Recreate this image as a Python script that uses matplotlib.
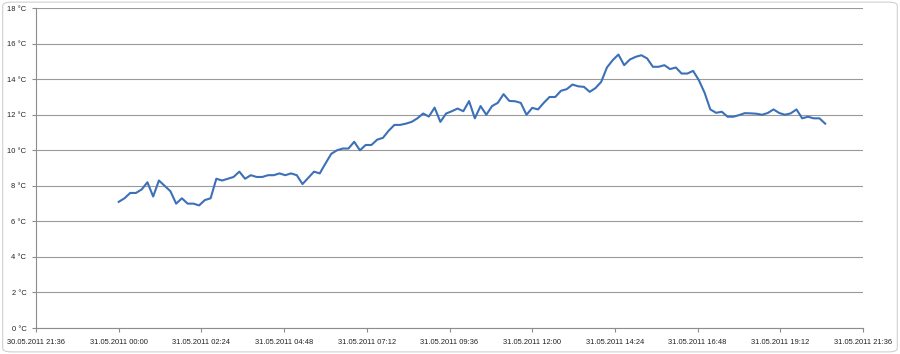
import pandas as pd
import matplotlib
matplotlib.use('Agg')
import matplotlib.pyplot as plt
import matplotlib.dates as mdates
from matplotlib.patches import FancyBboxPatch

# temperature readings, every 10 minutes from 31.05.2011 00:00
start_time = '2011-05-31 00:00'
temps = [
    7.1, 7.3, 7.6, 7.6, 7.8, 8.2, 7.4, 8.3, 8.0, 7.7,
    7.0, 7.3, 7.0, 7.0, 6.9, 7.2, 7.3, 8.4, 8.3, 8.4,
    8.5, 8.8, 8.4, 8.6, 8.5, 8.5, 8.6, 8.6, 8.7, 8.6,
    8.7, 8.6, 8.1, 8.45, 8.8, 8.7, 9.26, 9.8, 10.0, 10.1,
    10.1, 10.48, 10.0, 10.3, 10.3, 10.6, 10.7, 11.1, 11.43, 11.43,
    11.5, 11.6, 11.8, 12.07, 11.9, 12.4, 11.6, 12.07, 12.2, 12.35,
    12.2, 12.77, 11.8, 12.49, 12.0, 12.49, 12.67, 13.16, 12.78, 12.76,
    12.67, 12.0, 12.39, 12.3, 12.67, 13.0, 13.0, 13.35, 13.44, 13.7,
    13.6, 13.57, 13.29, 13.5, 13.85, 14.66, 15.07, 15.39, 14.79, 15.11,
    15.26, 15.35, 15.17, 14.7, 14.7, 14.79, 14.57, 14.66, 14.32, 14.32,
    14.47, 13.95, 13.24, 12.3, 12.11, 12.17, 11.89, 11.89, 11.98, 12.09,
    12.08, 12.06, 12.0, 12.1, 12.3, 12.1, 12.0, 12.08, 12.3, 11.8,
    11.89, 11.8, 11.8, 11.5,
]
times = pd.date_range(start_time, periods=len(temps), freq='10min')

x_start = pd.Timestamp('2011-05-30 21:36')
x_end = pd.Timestamp('2011-05-31 21:36')
x_ticks = pd.date_range(x_start, x_end, freq='144min')
y_ticks = [0, 2, 4, 6, 8, 10, 12, 14, 16, 18]

plt.rcParams['font.family'] = ['Liberation Sans', 'DejaVu Sans']

fig = plt.figure(figsize=(9, 3.54), dpi=100)
fig.patches.append(FancyBboxPatch((0.003, 0.006), 0.994, 0.988,
                                  boxstyle='round,pad=0,rounding_size=0.01',
                                  transform=fig.transFigure, fill=False,
                                  edgecolor='#d0d0d0', linewidth=0.8))
ax = fig.add_axes([0.04, 0.0734, 0.919, 0.9036])

ax.plot(times, temps, color='#3c70b8', linewidth=1.5, zorder=3)

ax.set_xlim(x_start, x_end)
ax.set_ylim(0, 18)
ax.set_xticks(x_ticks)
ax.xaxis.set_major_formatter(mdates.DateFormatter('%d.%m.%Y %H:%M'))
ax.set_yticks(y_ticks)
ax.set_yticklabels([f'{v} °C' for v in y_ticks])

ax.grid(axis='y', color='#9a9a9a', linewidth=0.8)
ax.set_axisbelow(True)
for side in ['top', 'right']:
    ax.spines[side].set_visible(False)
for side in ['left', 'bottom']:
    ax.spines[side].set_color('#8c8c8c')
    ax.spines[side].set_linewidth(0.8)
ax.tick_params(axis='both', direction='out', length=3, width=0.8,
               color='#8c8c8c', labelsize=5.4, labelcolor='#222222', pad=4)
ax.tick_params(axis='x', pad=5)

fig.savefig('out.png', dpi=100)
